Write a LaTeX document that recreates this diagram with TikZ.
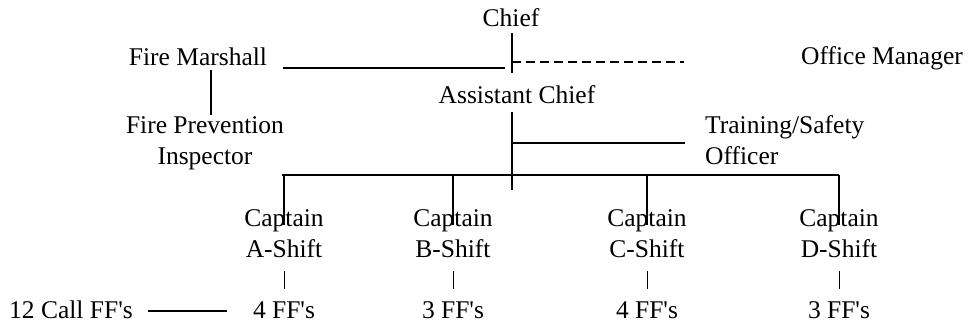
\documentclass[tikz,border=0pt]{standalone}
\usepackage{fontspec}
\newfontfamily\orgfont{Liberation Serif}
\usepackage{tikz}
\usetikzlibrary{positioning}
\tikzstyle{post} = [inner sep=0pt, anchor=base, align=center, font=\orgfont\fontsize{25.5}{31}\selectfont]
\tikzstyle{link} = [line width=1.6pt]
\tikzstyle{advisory} = [line width=1.5pt, dash pattern=on 9pt off 5pt]
\tikzstyle{tick} = [line width=1pt]

\begin{document}
\begin{tikzpicture}[x=1pt, y=-1pt]
\useasboundingbox (0,0) rectangle (969,324);
% command staff (multi-line nodes sit on their last line)
\node [post] (chief) at (511,26) {Chief};
\node [post] (marshal) at (198,65) {Fire Marshall};
\node [post] (officemgr) at (882,64) {Office Manager};
\node [post] (asst) at (517,103) {Assistant Chief};
\node [post] (inspector) at (205,164) {Fire Prevention\\Inspector};
\node [post, anchor=base west, align=left] (training) at (705,164) {Training/Safety\\Officer};
% shifts
\node [post] (capA) at (284,257) {Captain\\A-Shift};
\node [post] (capB) at (453,257) {Captain\\B-Shift};
\node [post] (capC) at (647,257) {Captain\\C-Shift};
\node [post] (capD) at (839,257) {Captain\\D-Shift};
\node [post] (ffA) at (284,318) {4 FF's};
\node [post] (ffB) at (453,318) {3 FF's};
\node [post] (ffC) at (647,318) {4 FF's};
\node [post] (ffD) at (839,318) {3 FF's};
\node [post] (callff) at (71,318) {12 Call FF's};

% line ends
\coordinate (chiefTop) at (512,33);
\coordinate (chiefEnd) at (512,73);
\coordinate (mgrEnd) at (684,62);
\coordinate (marshalStart) at (283,68);
\coordinate (marshalEnd) at (505,68);
\coordinate (inspTop) at (211,70);
\coordinate (inspEnd) at (211,115);
\coordinate (asstTop) at (512,112);
\coordinate (asstEnd) at (512,190);
\coordinate (trainEnd) at (685,143);
\coordinate (barStart) at (282,175);
\coordinate (barEnd) at (839,175);
\coordinate (dropEnd) at (0,225);
\coordinate (tickTop) at (0,271);
\coordinate (tickEnd) at (0,289);

\draw[link] (chiefTop) -- (chiefEnd);
\draw[link] (marshalStart) -- (marshalEnd);
\draw[advisory] (mgrEnd -| chiefTop) -- (mgrEnd);
\draw[link] (inspTop) -- (inspEnd);
\draw[link] (asstTop) -- (asstEnd);
\draw[link] (trainEnd -| asstTop) -- (trainEnd);
\draw[link] (barStart) -- (barEnd);
\foreach \c in {capA,capB,capC,capD}
    \draw[link] (barStart -| \c) -- (dropEnd -| \c);
\foreach \c/\f in {capA/ffA,capB/ffB,capC/ffC,capD/ffD}
    \draw[tick] (tickTop -| \c) -- (tickEnd -| \f);
\draw[link] ([xshift=15pt,yshift=7pt]callff.base east) -- ([xshift=-26pt,yshift=7pt]ffA.base west);
\end{tikzpicture}
\end{document}
